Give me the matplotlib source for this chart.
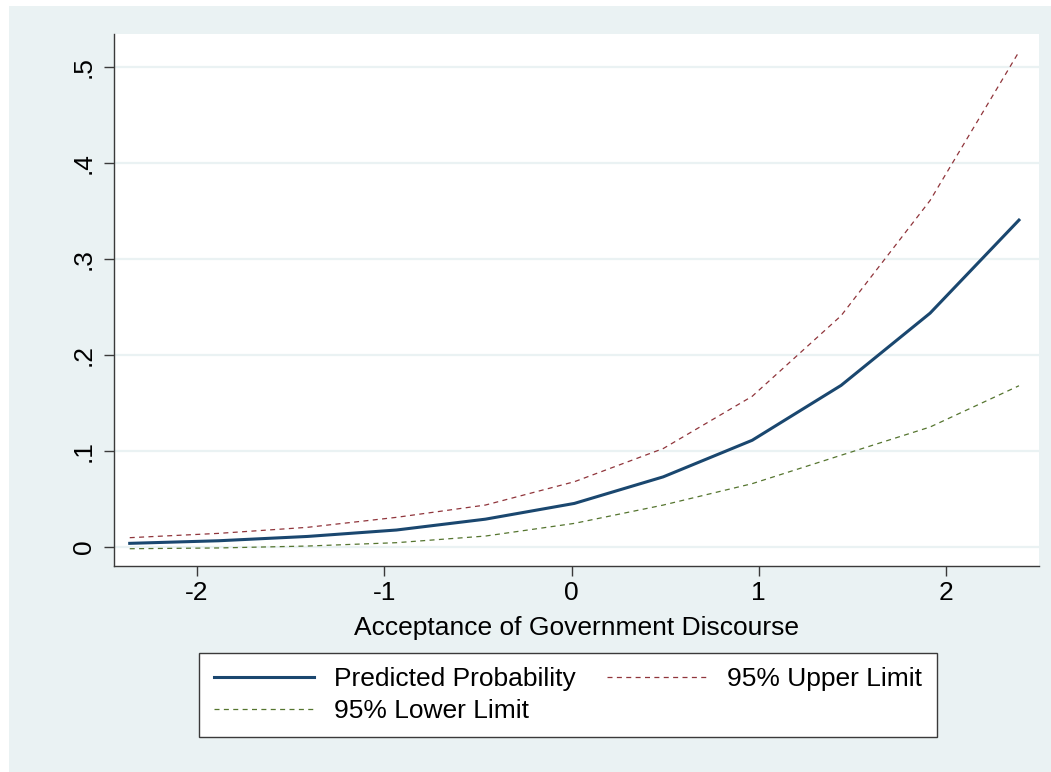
import matplotlib.pyplot as plt
from matplotlib.patches import Rectangle

# values
x_vals = [-2.36, -1.885, -1.41, -0.935, -0.46, 0.015, 0.49, 0.965, 1.44, 1.915, 2.39]
predicted = [0.0038, 0.0065, 0.0110, 0.0177, 0.0290, 0.0454, 0.0731, 0.1112, 0.1684, 0.2436, 0.3406]
upper = [0.0097, 0.0142, 0.0205, 0.0309, 0.0437, 0.0680, 0.1026, 0.1570, 0.2410, 0.3610, 0.5160]
lower = [-0.0018, -0.0010, 0.0010, 0.0045, 0.0114, 0.0246, 0.0437, 0.0660, 0.0956, 0.1250, 0.1680]

x_ticks = [-2, -1, 0, 1, 2]
y_ticks = [0, 0.1, 0.2, 0.3, 0.4, 0.5]
y_ticklabels = ['0', '.1', '.2', '.3', '.4', '.5']

plt.rcParams['font.family'] = ['Liberation Sans', 'DejaVu Sans']

bg = '#EAF2F3'
fig = plt.figure(figsize=(10.51, 7.72), dpi=100, facecolor='white')
fig.patches.append(Rectangle((9 / 1051, 0), 1, 1 - 6 / 772, transform=fig.transFigure,
                             facecolor=bg, edgecolor='none', zorder=-10))

ax = fig.add_axes([114 / 1051, 1 - 566 / 772, (1039 - 114) / 1051, (566 - 34) / 772])
ax.set_facecolor('white')

ax.plot(x_vals, predicted, color='#1A476F', lw=2.2, label='Predicted Probability')
ax.plot(x_vals, upper, color='#90353B', lw=0.9, linestyle=(0, (4, 3.5)), label='95% Upper Limit')
ax.plot(x_vals, lower, color='#55752F', lw=0.9, linestyle=(0, (4, 3.5)), label='95% Lower Limit')

ax.set_xlim(-2.444, 2.497)
ax.set_ylim(-0.0198, 0.5345)

ax.set_xticks(x_ticks)
ax.set_xticklabels([str(t) for t in x_ticks])
ax.set_yticks(y_ticks)
ax.set_yticklabels(y_ticklabels, rotation=90, va='center')

for side in ['top', 'right']:
    ax.spines[side].set_visible(False)
for side in ['left', 'bottom']:
    ax.spines[side].set_color('#3a3a3a')
    ax.spines[side].set_linewidth(1.0)

ax.tick_params(axis='both', colors='#3a3a3a', labelcolor='black', labelsize=19,
               length=7, width=1.0)
ax.tick_params(axis='y', pad=6)
ax.tick_params(axis='x', pad=4)

ax.yaxis.grid(True, color=bg, lw=1.6)
ax.set_axisbelow(True)

ax.set_xlabel('Acceptance of Government Discourse', fontsize=19, labelpad=8)

h, l = ax.get_legend_handles_labels()
order = [0, 2, 1]
leg = fig.legend([h[i] for i in order], [l[i] for i in order], ncol=2,
                 loc='center', bbox_to_anchor=(199 / 1051, 1 - 738 / 772, 738 / 1051, 86 / 772),
                 mode='expand', fontsize=19, frameon=True, fancybox=False,
                 handlelength=3.8, handletextpad=0.75, columnspacing=1.6,
                 labelspacing=0.3, borderpad=0.55, borderaxespad=0)
leg.get_frame().set_edgecolor('#3a3a3a')
leg.get_frame().set_linewidth(1.0)
leg.get_frame().set_facecolor('white')
leg.get_frame().set_alpha(1)

fig.savefig('out.png', dpi=100, facecolor=fig.get_facecolor())
